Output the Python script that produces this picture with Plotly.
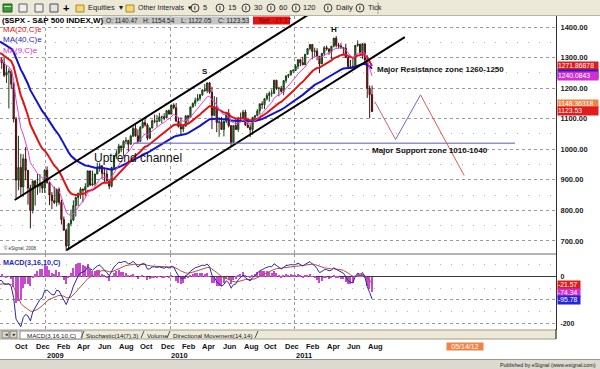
import pandas as pd
import plotly.graph_objects as go

# ---------------- DATA ----------------
# weekly closes before the visible window (only used to warm up the moving averages)
warmup_close = [1443.8, 1452.9, 1484.4, 1494.1, 1505.6, 1505.9, 1522.8, 1515.7,
                1536.3, 1507.7, 1532.9, 1502.6, 1503.4, 1530.4, 1552.5, 1534.1,
                1459.0, 1433.1, 1453.6, 1445.9, 1479.4, 1474.0, 1453.6, 1484.3,
                1525.8, 1526.8, 1557.6, 1561.8, 1500.6, 1535.3, 1509.7, 1453.7,
                1458.7, 1440.7, 1481.1, 1504.7, 1468.0, 1484.5, 1478.5,
                1411.6, 1401.0, 1325.2, 1330.6, 1395.4, 1331.3, 1350.0, 1353.1,
                1330.6, 1293.4, 1288.1, 1329.5, 1315.2, 1370.4, 1332.8, 1390.3,
                1397.8, 1413.9, 1388.3, 1425.4, 1375.9, 1400.4, 1360.7, 1360.0,
                1317.9, 1278.4, 1262.9, 1239.5, 1260.7, 1257.8]

bar_open = [
    # 2008
    1257.8, 1260.3, 1296.3, 1298.2, 1292.2, 1282.8, 1242.3, 1251.7, 1255.1, 1213.3, 1099.2,
    899.2, 940.6, 876.8, 968.8, 931.0, 873.3, 800.0, 896.2, 876.1, 879.7, 887.9,
    # 2009
    872.8, 931.8, 890.4, 850.1, 832.0, 825.9, 868.6, 826.8, 770.1, 735.1, 683.4, 756.6, 768.5,
    815.9, 842.5, 856.6, 869.6, 866.2, 877.5, 929.2, 882.9, 887.0, 919.1, 940.1, 946.2, 921.2,
    918.9, 896.4, 879.1, 940.4, 979.3, 987.5, 1010.5, 1004.1, 1026.1, 1028.9, 1016.4, 1042.7,
    1068.3, 1044.4, 1025.2, 1071.5, 1087.7, 1079.6, 1036.2, 1069.3, 1093.5, 1091.4, 1091.5,
    1106.0, 1106.4, 1102.5, 1126.5,
    # 2010
    1115.1, 1145.0, 1136.0, 1091.8, 1073.9, 1066.2, 1075.5, 1109.2, 1104.5, 1138.7, 1150.0,
    1159.9, 1166.6, 1178.1, 1194.4, 1192.1, 1217.3, 1186.7, 1110.9, 1135.7, 1087.7, 1089.4,
    1064.9, 1091.6, 1117.5, 1076.8, 1022.6, 1078.0, 1064.9, 1102.7, 1101.6, 1121.6, 1079.3,
    1071.7, 1064.6, 1104.5, 1109.6, 1125.6, 1148.7, 1146.2, 1165.2, 1176.2, 1183.1, 1183.3,
    1225.9, 1199.2, 1199.7, 1189.4, 1224.7, 1240.4, 1243.9, 1256.8,
    # 2011
    1257.6, 1271.5, 1293.2, 1283.4, 1276.3, 1310.9, 1329.2, 1343.0, 1319.9, 1321.2, 1304.3,
    1279.2, 1313.8, 1332.4, 1328.2, 1319.7, 1337.4, 1363.6, 1340.2, 1337.8, 1333.3, 1331.1,
    1300.2, 1271.0, 1271.5, 1268.5, 1339.7, 1343.8, 1316.1, 1345.0, 1292.3, 1199.4, 1178.8]

bar_high = [
    1284.0, 1297.0, 1313.0, 1300.0, 1300.7, 1303.0, 1274.0, 1265.0, 1260.0, 1220.0, 1106.0,
    1044.0, 985.0, 984.0, 1007.5, 932.0, 884.0, 898.0, 900.0, 918.9, 918.6, 890.0,
    934.7, 943.9, 893.0, 860.0, 877.9, 870.8, 875.0, 835.0, 780.0, 741.0, 758.0, 803.0, 833.0,
    845.6, 856.9, 875.6, 871.0, 888.7, 930.2, 930.0, 930.2, 920.0, 956.2, 956.2, 946.3, 935.0,
    931.9, 898.7, 943.0, 979.8, 996.7, 1018.0, 1012.6, 1029.6, 1039.5, 1031.0, 1048.0, 1074.8,
    1080.2, 1065.2, 1076.0, 1096.6, 1101.4, 1085.0, 1071.5, 1097.0, 1113.7, 1112.0, 1119.1,
    1110.0, 1117.7, 1126.5, 1130.4,
    1145.4, 1150.4, 1150.5, 1103.7, 1104.7, 1080.0, 1112.4, 1112.4, 1139.0, 1153.4, 1169.0,
    1180.7, 1181.4, 1194.7, 1213.9, 1217.5, 1219.8, 1205.1, 1173.6, 1170.7, 1104.7, 1105.7,
    1092.0, 1119.0, 1131.2, 1079.5, 1078.5, 1099.1, 1103.7, 1120.0, 1128.8, 1129.2, 1100.0,
    1081.6, 1105.1, 1112.4, 1131.5, 1148.9, 1157.2, 1167.7, 1184.4, 1189.4, 1196.1, 1227.1,
    1227.1, 1204.5, 1207.4, 1225.0, 1240.4, 1246.7, 1259.3, 1262.6,
    1278.2, 1293.2, 1296.1, 1302.7, 1311.0, 1330.8, 1344.1, 1344.0, 1332.3, 1330.6, 1305.0,
    1314.8, 1337.9, 1339.5, 1330.0, 1337.5, 1364.6, 1370.6, 1348.5, 1346.8, 1334.0, 1345.2,
    1302.0, 1292.5, 1298.6, 1341.0, 1356.5, 1345.0, 1347.0, 1346.0, 1307.4, 1208.5, 1208.5]

bar_low = [
    1247.0, 1248.0, 1274.0, 1261.0, 1263.0, 1236.0, 1217.0, 1133.5, 1197.0, 1088.0, 839.8,
    865.8, 845.0, 845.0, 899.0, 818.7, 741.0, 790.0, 815.7, 851.0, 857.7, 857.0,
    857.0, 888.0, 817.0, 804.0, 821.0, 812.9, 818.0, 754.0, 734.5, 666.8, 672.9, 748.0, 765.0,
    779.8, 814.5, 838.0, 826.8, 846.0, 876.0, 878.9, 879.0, 881.0, 918.8, 927.0, 903.8, 888.9,
    896.0, 869.3, 875.3, 938.0, 969.0, 983.0, 990.0, 978.5, 1016.0, 991.0, 1016.0, 1040.0,
    1041.0, 1020.0, 1025.0, 1068.0, 1074.0, 1029.4, 1033.0, 1069.0, 1085.0, 1073.5, 1091.0,
    1085.9, 1095.0, 1102.0, 1115.0,
    1115.0, 1131.0, 1090.2, 1071.6, 1044.5, 1056.5, 1075.0, 1086.0, 1104.0, 1136.0, 1141.0,
    1156.0, 1159.0, 1175.0, 1188.0, 1183.5, 1181.6, 1065.8, 1110.0, 1055.9, 1040.8, 1064.6,
    1042.2, 1085.0, 1071.6, 1010.9, 1022.3, 1063.3, 1056.9, 1088.0, 1100.0, 1076.6, 1069.0,
    1039.7, 1048.0, 1091.0, 1109.0, 1114.0, 1131.9, 1131.9, 1159.7, 1155.7, 1171.7, 1180.3,
    1194.1, 1173.0, 1185.5, 1177.1, 1216.9, 1233.0, 1240.6, 1248.6,
    1257.0, 1262.2, 1271.3, 1275.1, 1276.0, 1309.6, 1323.3, 1294.3, 1302.6, 1291.4, 1249.0,
    1279.0, 1307.4, 1322.9, 1309.0, 1294.7, 1333.6, 1332.9, 1329.2, 1328.2, 1311.8, 1297.9,
    1268.2, 1262.9, 1265.6, 1267.4, 1335.2, 1306.1, 1295.9, 1282.9, 1168.1, 1101.5, 1122.1]

bar_close = [
    1260.3, 1296.3, 1298.2, 1292.2, 1282.8, 1242.3, 1251.7, 1255.1, 1213.3, 1099.2, 899.2,
    940.6, 876.8, 968.8, 931.0, 873.3, 800.0, 896.2, 876.1, 879.7, 887.9, 872.8,
    931.8, 890.4, 850.1, 832.0, 825.9, 868.6, 826.8, 770.1, 735.1, 683.4, 756.6, 768.5, 815.9,
    842.5, 856.6, 869.6, 866.2, 877.5, 929.2, 882.9, 887.0, 919.1, 940.1, 946.2, 921.2, 918.9,
    896.4, 879.1, 940.4, 979.3, 987.5, 1010.5, 1004.1, 1026.1, 1028.9, 1016.4, 1042.7, 1068.3,
    1044.4, 1025.2, 1071.5, 1087.7, 1079.6, 1036.2, 1069.3, 1093.5, 1091.4, 1091.5, 1106.0,
    1106.4, 1102.5, 1126.5, 1115.1,
    1145.0, 1136.0, 1091.8, 1073.9, 1066.2, 1075.5, 1109.2, 1104.5, 1138.7, 1150.0, 1159.9,
    1166.6, 1178.1, 1194.4, 1192.1, 1217.3, 1186.7, 1110.9, 1135.7, 1087.7, 1089.4, 1064.9,
    1091.6, 1117.5, 1076.8, 1022.6, 1078.0, 1064.9, 1102.7, 1101.6, 1121.6, 1079.3, 1071.7,
    1064.6, 1104.5, 1109.6, 1125.6, 1148.7, 1146.2, 1165.2, 1176.2, 1183.1, 1183.3, 1225.9,
    1199.2, 1199.7, 1189.4, 1224.7, 1240.4, 1243.9, 1256.8, 1257.6,
    1271.5, 1293.2, 1283.4, 1276.3, 1310.9, 1329.2, 1343.0, 1319.9, 1321.2, 1304.3, 1279.2,
    1313.8, 1332.4, 1328.2, 1319.7, 1337.4, 1363.6, 1340.2, 1337.8, 1333.3, 1331.1, 1300.2,
    1271.0, 1271.5, 1268.5, 1339.7, 1343.8, 1316.1, 1345.0, 1292.3, 1199.4, 1178.8, 1123.5]

# hand-drawn study lines (date, price)
upper_channel_x = ["2008-10-02", "2011-03-15"]
upper_channel_y = [834, 1464]
lower_channel_x = ["2009-03-03", "2011-11-19"]
lower_channel_y = [670, 1367]
support_x = ["2009-09-13", "2012-10-07"]
support_y = [1020, 1020]
proj1_x = ["2011-08-23", "2011-10-23"]
proj1_y = [1156, 1032]
proj2_x = ["2011-10-23", "2012-01-04"]
proj2_y = [1032, 1178]
proj3_x = ["2012-01-04", "2012-05-11"]
proj3_y = [1178, 914]

price_ticks = [700, 800, 900, 1000, 1100, 1200, 1300, 1400]
price_minor = [750, 850, 950, 1050, 1150, 1250, 1350]
macd_ticks = [-200, -100, 0]
macd_ticktext = ["-200", "", "0"]
year_grid = ["2009-01-01", "2010-01-01", "2011-01-01"]
month_ticks = pd.date_range("2008-10-01", "2011-08-01", freq="2MS")
year_labels = ["2009", "2010", "2011"]

# last-value boxes on the right axis (text, level, colour)
price_boxes = [("1271.86878", 1273.5, "#e01c1c"), ("", 1247.5, "#2020d0"),
               ("1240.0843", 1240.08, "#d22cd2"), ("1148.36318", 1149.5, "#f08446"),
               ("1123.53", 1124.5, "#e01c1c")]
macd_boxes = [("-21.57", -35.0, "#e01c1c"), ("-74.34", -69.0, "#d22cd2"),
              ("-95.78", -101.5, "#2626d8")]

# ---------------- DERIVED ----------------
n_warm = len(warmup_close)
dates_all = pd.date_range("2007-04-02", periods=n_warm + len(bar_close), freq="W-MON")
bar_dates = dates_all[n_warm:]
close_all = pd.Series(warmup_close + bar_close, index=dates_all)
ema9 = close_all.ewm(span=9, adjust=False).mean()
ema20 = close_all.ewm(span=20, adjust=False).mean()
ema40 = close_all.ewm(span=40, adjust=False).mean()
macd = close_all.ewm(span=3, adjust=False).mean() - close_all.ewm(span=16, adjust=False).mean()
signal = macd.ewm(span=10, adjust=False).mean()
hist = macd - signal
show = dates_all >= pd.Timestamp("2008-06-01")

# ---------------- LAYOUT HELPERS ----------------
FONT = "Liberation Sans, Arial, sans-serif"
PR, PT, PB = 556, 16, 339


def px(x):
    return x / PR


def py(y):
    return (PB - y) / (PB - PT)


fig = go.Figure()

fig.add_trace(go.Candlestick(
    x=bar_dates, open=bar_open, high=bar_high, low=bar_low, close=bar_close,
    xaxis="x", yaxis="y", whiskerwidth=0, showlegend=False, hoverinfo="skip",
    increasing=dict(line=dict(color="#163f16", width=1), fillcolor="#2f8f2f"),
    decreasing=dict(line=dict(color="#4a1010", width=1), fillcolor="#8e1c1c")))

for s, col, w in [(ema40, "#1414c8", 2), (ema20, "#e01414", 2), (ema9, "#dd44dd", 1)]:
    fig.add_trace(go.Scatter(x=dates_all[show], y=s[show], mode="lines", xaxis="x", yaxis="y",
                             line=dict(color=col, width=w), showlegend=False, hoverinfo="skip"))

for xs, ys, col, w in [(upper_channel_x, upper_channel_y, "#000000", 2),
                       (lower_channel_x, lower_channel_y, "#000000", 2),
                       (support_x, support_y, "#5a5ab8", 1),
                       (proj1_x, proj1_y, "#c8607a", 1),
                       (proj2_x, proj2_y, "#6a6ad0", 1),
                       (proj3_x, proj3_y, "#e05858", 1)]:
    fig.add_trace(go.Scatter(x=pd.to_datetime(xs), y=ys, mode="lines", xaxis="x", yaxis="y",
                             line=dict(color=col, width=w), showlegend=False, hoverinfo="skip"))

fig.add_trace(go.Bar(x=bar_dates, y=hist[bar_dates], xaxis="x2", yaxis="y2",
                     marker=dict(color="#c848d0", line=dict(width=0)),
                     width=4 * 86400000, showlegend=False, hoverinfo="skip"))
fig.add_trace(go.Scatter(x=bar_dates, y=signal[bar_dates], mode="lines", xaxis="x2", yaxis="y2",
                         line=dict(color="#b4503c", width=1), showlegend=False, hoverinfo="skip"))
fig.add_trace(go.Scatter(x=bar_dates, y=macd[bar_dates], mode="lines", xaxis="x2", yaxis="y2",
                         line=dict(color="#2a2aa0", width=1), showlegend=False, hoverinfo="skip"))

xr = ["2008-08-20", "2013-02-04"]
xcommon = dict(range=xr, tickmode="array", tickvals=year_grid, showticklabels=False, ticks="",
               showgrid=True, gridcolor="#9a9a9a", griddash="dot", gridwidth=1,
               zeroline=False, showline=False, fixedrange=True)
tickf = dict(family=FONT, size=7.5, color="#1a1a1a", weight="bold")

shapes = []
ann = []


def text(x, y, s, size=7.5, color="#1a1a1a", bold=False, xanchor="left", xref="paper",
         yref="paper", bg=None, width=None, height=None, family=FONT, align="left"):
    d = dict(x=x, y=y, xref=xref, yref=yref, text=s, showarrow=False, xanchor=xanchor,
             yanchor="middle", align=align, borderpad=0,
             font=dict(family=family, size=size, color=color, weight="bold" if bold else "normal"))
    if bg:
        d["bgcolor"] = bg
    if width:
        d["width"] = width
    if height:
        d["height"] = height
    ann.append(d)


def rect(x0, y0, x1, y1, fill, line=None, lw=1):
    shapes.append(dict(type="rect", xref="paper", yref="paper", x0=px(x0), x1=px(x1),
                       y0=py(y1), y1=py(y0), fillcolor=fill, layer="above",
                       line=dict(color=line or fill, width=lw if line else 0)))


def hline(x0, x1, y, color, w=1):
    shapes.append(dict(type="line", xref="paper", yref="paper", x0=px(x0), x1=px(x1),
                       y0=py(y), y1=py(y), line=dict(color=color, width=w), layer="above"))


def vline(x, y0, y1, color, w=1):
    shapes.append(dict(type="line", xref="paper", yref="paper", x0=px(x), x1=px(x),
                       y0=py(y0), y1=py(y1), line=dict(color=color, width=w), layer="above"))


# toolbar
rect(0, 0, 600, 15, "#ece9d8")
hline(0, 600, 15.5, "#b8b4a0")
rect(3, 4, 12, 12, "#3c9a3c", "#1e5a1e")
hline(4, 11, 6.5, "#c8f0c8")
rect(19, 4, 27, 12, "#eeeeee", "#606060")
rect(35, 4, 43, 12, "#eeeeee", "#606060")
rect(50, 4, 58, 12, "#e4e4e4", "#505050")
text(px(62), py(8), "+", size=11, color="#000000", bold=True)
rect(76, 5, 84, 12, "#f4d878", "#a88a28")
text(px(87), py(8), "Equities  \u25be", size=7.5)
rect(126, 5, 134, 12, "#f4d878", "#a88a28")
text(px(137), py(8), "Other Intervals  \u25be", size=7)
for cx, lab in [(191, "5"), (216, "15"), (242, "30"), (267, "60"), (292, "120"),
                (324, "Daily"), (356, "Tick")]:
    shapes.append(dict(type="circle", xref="paper", yref="paper", x0=px(cx), x1=px(cx + 8),
                       y0=py(12), y1=py(4), line=dict(color="#3a3a3a", width=1), layer="above"))
    text(px(cx + 4), py(8), "I", size=5.5, color="#222", bold=True, xanchor="center")
    text(px(cx + 10.5), py(8), lab, size=7.5)
vline(378, 2, 14, "#a8a490")

# title bar inside the price pane
text(px(1), py(20.5), "($SPX - S&amp;P 500 INDEX,W)", size=8, color="#000000", bold=True)
rect(102, 16.5, 249, 24.5, "#c6c6c6")
for x0, s in [(105, "O: 1140.47"), (142, "H: 1154.54"), (180, "L: 1122.05"), (217, "C: 1123.53")]:
    text(px(x0), py(20.5), s, size=6.5, color="#1a1a1a")
rect(253, 16.5, 290, 24.5, "#e41414")
text(px(258), py(20.5), "Net: -17.17", size=6.5, color="#7a0000")

# MA legend
text(px(2), py(29.5), "MA(20,C)e", size=8, color="#e01818")
text(px(2), py(40), "MA(40,C)e", size=8, color="#1a1ac8")
text(px(2), py(50.5), "MA(9,C)e", size=8, color="#d030d0")
text(px(3), py(248), "\u00a9 eSignal, 2008", size=4.5, color="#333333")
text(px(2), py(262), "MACD(3,16,10,C)", size=7.2, color="#2828b8", bold=True)

# chart notes (placed in data coordinates)
notes = [("Uptrend channel", "2009-05-19", 971, 12, False),
         ("S", "2010-04-12", 1253, 8, True),
         ("H", "2011-04-25", 1393, 8, True),
         ("Major Resistance zone 1260-1250", "2011-08-26", 1262, 8, True),
         ("Major Support zone 1010-1040", "2011-08-11", 997, 8, True)]
for s, xd, yv, sz, b in notes:
    text(xd, yv, s, size=sz, color="#111111", bold=b, xref="x", yref="y",
         xanchor="center" if len(s) == 1 else "left")

# pane separator, right axis extension, tab bar
hline(0, PR, 254, "#6a6a6a")
rect(0, 330, PR, 339, "#ece9d8", "#a09c88")
rect(20, 331, 82, 339, "#ffffff", "#8a8a8a")
rect(2, 331, 9, 338, "#dcd8c8", "#808080")
rect(10, 331, 17, 338, "#dcd8c8", "#808080")
text(px(5.5), py(334.5), "\u25c4", size=4.5, color="#222", xanchor="center")
text(px(13.5), py(334.5), "\u25ba", size=4.5, color="#222", xanchor="center")
for x0, s in [(26, "MACD(3,16,10,C)"), (85, "Stochastic(14(7),3)"), (146, "Volume"),
              (172, "Directional Movement(14,14)")]:
    text(px(x0), py(335), s, size=6.2, color="#222222")
for x0 in [83, 143, 169, 257]:
    shapes.append(dict(type="line", xref="paper", yref="paper", x0=px(x0 - 2), x1=px(x0 + 1),
                       y0=py(338), y1=py(331), line=dict(color="#555", width=1), layer="above"))
vline(PR, 329, 339, "#303030")

# bottom strip
rect(0, 359, 600, 369, "#dcd9d0")
hline(0, 600, 359.5, "#9a978c")
text(px(597), py(364.5), "Published by eSignal (www.esignal.com)", size=5.3, color="#222222",
     xanchor="right")

# month / year labels through the x axis
for d in month_ticks:
    text(d, py(346), d.strftime("%b"), size=7.5, color="#111111", bold=True, xref="x2")
for yl in year_labels:
    text(yl + "-01-01", py(355.5), yl, size=7.5, color="#111111", bold=True, xref="x2")
text("2012-05-14", py(346), "05/14/12", size=7, color="#ffffff", xref="x2", xanchor="center",
     bg="#f08446", width=36, align="center")

# right-axis value boxes
for s, v, c in price_boxes:
    text(px(557), v, s, size=6.8, color="#ffffff", yref="y", bg=c, width=40, height=7.5)
for s, v, c in macd_boxes:
    text(px(557), v, s, size=6.8, color="#ffffff", yref="y2", bg=c, width=22, height=7.5)

fig.update_layout(
    width=600, height=369, margin=dict(l=0, r=44, t=16, b=30, pad=0),
    paper_bgcolor="#ffffff", plot_bgcolor="#ffffff", showlegend=False,
    bargap=0, font=dict(family=FONT),
    xaxis=dict(domain=[0, 1], anchor="y", rangeslider=dict(visible=False), **xcommon),
    xaxis2=dict(domain=[0, 1], anchor="y2", matches="x", **xcommon),
    yaxis=dict(domain=[py(254), 1], anchor="x", side="right", range=[657.4, 1436],
               tickmode="array", tickvals=price_ticks, tickformat=".2f", tickfont=tickf,
               ticks="", ticklabelstandoff=2, showline=True, linecolor="#303030", linewidth=1,
               showgrid=True, gridcolor="#9a9a9a", griddash="dot", zeroline=False,
               minor=dict(tickmode="array", tickvals=price_minor, showgrid=True,
                          gridcolor="#b4b4b4", griddash="1px,10px", ticks="")),
    yaxis2=dict(domain=[py(330), py(254)], anchor="x2", side="right", range=[-229, 97],
                tickmode="array", tickvals=macd_ticks, ticktext=macd_ticktext,
                tickfont=dict(family=FONT, size=7, color="#1a1a1a", weight="bold"),
                ticks="", ticklabelstandoff=2, showline=True, linecolor="#303030", linewidth=1,
                showgrid=True, gridcolor="#9a9a9a", griddash="dot",
                zeroline=True, zerolinecolor="#3a3a3a", zerolinewidth=1,
                minor=dict(tickmode="array", tickvals=[-150, -50, 50], showgrid=True,
                           gridcolor="#b4b4b4", griddash="1px,10px", ticks="")),
    shapes=shapes, annotations=ann,
)

fig.write_html("out.html")
